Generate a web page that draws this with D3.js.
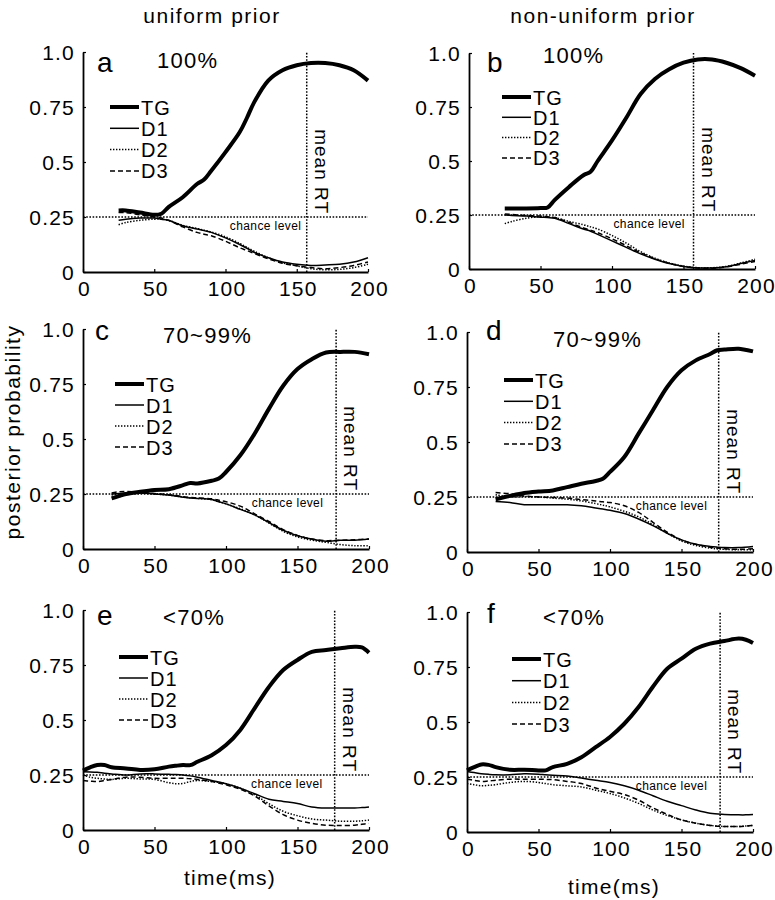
<!DOCTYPE html>
<html>
<head>
<meta charset="utf-8">
<script src="https://cdn.jsdelivr.net/npm/d3@7/dist/d3.min.js"></script>
<style>
  html, body { margin: 0; padding: 0; background: #fff; }
  svg { display: block; }
  text { font-family: "Liberation Sans", Arial, Helvetica, sans-serif; fill: #000; }
</style>
</head>
<body>
<svg id="chart" width="775" height="900"></svg>
<script>
// ---------------- DATA ----------------
const columnTitles = ["uniform prior", "non-uniform prior"];
const panelLetters = ["a", "b", "c", "d", "e", "f"];
const accuracyLabels = ["100%", "100%", "70~99%", "70~99%", "<70%", "<70%"];
const seriesNames = ["TG", "D1", "D2", "D3"];
const yTickValues = [0, 0.25, 0.5, 0.75, 1.0];
const yTickLabels = ["0", "0.25", "0.5", "0.75", "1.0"];
const xTickValues = [0, 50, 100, 150, 200];
const xTickLabels = ["0", "50", "100", "150", "200"];
const chanceLevel = 0.25;
const meanRT = [157, 157, 177, 176, 176, 177];
const yAxisTitle = "posterior probability";
const xAxisTitle = "time(ms)";

// panel a
const timesA = [25,30,40,50,55,60,70,80,85,90,100,110,115,120,130,140,150,160,170,180,190,200];
const tgA = [0.28,0.28,0.27,0.26,0.265,0.295,0.34,0.40,0.42,0.46,0.545,0.636,0.70,0.77,0.87,0.917,0.94,0.95,0.95,0.94,0.917,0.87];
const d1A = [0.235,0.24,0.245,0.245,0.24,0.235,0.21,0.195,0.188,0.18,0.155,0.125,0.108,0.09,0.065,0.045,0.035,0.03,0.032,0.035,0.045,0.065];
const d2A = [0.215,0.225,0.235,0.24,0.24,0.235,0.212,0.198,0.19,0.182,0.16,0.13,0.112,0.095,0.065,0.042,0.028,0.015,0.01,0.012,0.02,0.035];
const d3A = [0.27,0.27,0.26,0.25,0.245,0.235,0.205,0.18,0.172,0.165,0.14,0.11,0.098,0.085,0.06,0.04,0.028,0.02,0.015,0.02,0.03,0.045];

// panel b
const timesB = [25,30,40,50,55,60,70,80,85,90,100,110,120,130,140,150,160,170,180,190,200];
const tgB = [0.28,0.28,0.28,0.282,0.285,0.32,0.38,0.434,0.45,0.50,0.595,0.70,0.81,0.88,0.925,0.955,0.97,0.97,0.955,0.93,0.895];
const d1B = [0.25,0.248,0.245,0.24,0.238,0.235,0.21,0.185,0.175,0.16,0.13,0.10,0.07,0.045,0.025,0.012,0.005,0.005,0.01,0.025,0.04];
const d2B = [0.21,0.22,0.235,0.242,0.24,0.238,0.22,0.205,0.195,0.185,0.155,0.12,0.08,0.05,0.028,0.014,0.006,0.006,0.012,0.028,0.045];
const d3B = [0.255,0.252,0.248,0.245,0.242,0.238,0.215,0.19,0.18,0.168,0.14,0.108,0.075,0.048,0.026,0.012,0.005,0.004,0.01,0.022,0.035];

// panel c
const timesC = [20,25,30,40,50,60,70,75,80,90,95,100,110,120,130,140,150,160,170,180,190,200];
const tgC = [0.23,0.24,0.25,0.26,0.268,0.272,0.29,0.30,0.298,0.31,0.32,0.35,0.426,0.524,0.637,0.742,0.818,0.863,0.893,0.896,0.896,0.885];
const d1C = [0.25,0.252,0.255,0.255,0.25,0.245,0.235,0.232,0.23,0.225,0.215,0.205,0.18,0.155,0.12,0.085,0.06,0.045,0.035,0.04,0.04,0.045];
const d2C = [0.245,0.25,0.252,0.255,0.25,0.245,0.236,0.233,0.23,0.224,0.215,0.205,0.183,0.155,0.118,0.08,0.055,0.04,0.03,0.02,0.015,0.015];
const d3C = [0.255,0.26,0.262,0.258,0.252,0.247,0.238,0.234,0.232,0.228,0.222,0.215,0.195,0.16,0.125,0.088,0.062,0.045,0.038,0.04,0.042,0.045];

// panel d
const timesD = [20,30,40,50,60,70,80,90,95,100,110,120,130,140,150,160,170,175,180,190,200];
const tgD = [0.24,0.255,0.268,0.275,0.28,0.295,0.31,0.323,0.333,0.364,0.432,0.538,0.644,0.75,0.826,0.871,0.90,0.917,0.92,0.924,0.912];
const d1D = [0.23,0.225,0.215,0.215,0.215,0.215,0.21,0.2,0.195,0.19,0.175,0.15,0.12,0.085,0.055,0.035,0.025,0.022,0.02,0.02,0.025];
const d2D = [0.26,0.25,0.252,0.25,0.245,0.24,0.232,0.22,0.213,0.205,0.185,0.16,0.125,0.085,0.05,0.03,0.018,0.014,0.012,0.01,0.01];
const d3D = [0.27,0.265,0.255,0.25,0.248,0.245,0.238,0.232,0.228,0.225,0.21,0.18,0.135,0.09,0.055,0.035,0.022,0.018,0.015,0.012,0.015];

// panel e
const timesE = [0,5,10,15,20,30,40,50,60,65,70,75,80,90,100,110,120,130,140,150,160,170,180,190,195,200];
const tgE = [0.27,0.285,0.295,0.295,0.285,0.28,0.273,0.276,0.288,0.292,0.295,0.295,0.31,0.34,0.386,0.455,0.553,0.65,0.727,0.773,0.81,0.818,0.826,0.833,0.83,0.806];
const d1E = [0.265,0.264,0.262,0.258,0.255,0.25,0.255,0.255,0.253,0.252,0.25,0.246,0.24,0.225,0.21,0.19,0.165,0.14,0.13,0.12,0.105,0.1,0.1,0.1,0.102,0.105];
const d2E = [0.25,0.24,0.235,0.232,0.23,0.235,0.232,0.23,0.215,0.21,0.212,0.22,0.225,0.22,0.21,0.19,0.16,0.12,0.085,0.065,0.05,0.045,0.04,0.04,0.042,0.045];
const d3E = [0.225,0.222,0.22,0.225,0.23,0.24,0.24,0.235,0.235,0.235,0.235,0.233,0.23,0.22,0.205,0.185,0.155,0.11,0.07,0.045,0.03,0.022,0.02,0.022,0.026,0.03];

// panel f
const timesF = [0,5,10,15,20,30,40,50,55,60,70,80,90,100,110,120,130,140,150,160,170,180,190,195,200];
const tgF = [0.28,0.295,0.307,0.305,0.295,0.283,0.283,0.28,0.28,0.295,0.31,0.34,0.386,0.432,0.492,0.568,0.66,0.742,0.788,0.833,0.856,0.868,0.879,0.874,0.859];
const d1F = [0.275,0.27,0.265,0.262,0.26,0.26,0.265,0.263,0.26,0.258,0.255,0.245,0.235,0.225,0.21,0.19,0.165,0.14,0.12,0.1,0.085,0.08,0.078,0.078,0.08];
const d2F = [0.22,0.215,0.21,0.212,0.215,0.225,0.23,0.225,0.22,0.215,0.21,0.205,0.19,0.175,0.155,0.13,0.1,0.075,0.055,0.04,0.03,0.025,0.025,0.027,0.03];
const d3F = [0.24,0.235,0.23,0.232,0.235,0.24,0.24,0.24,0.239,0.238,0.23,0.22,0.2,0.185,0.17,0.145,0.11,0.08,0.055,0.04,0.03,0.025,0.025,0.027,0.03];

// ---------------- LAYOUT ----------------
const panelData = [
  {t: timesA, s: [tgA, d1A, d2A, d3A]},
  {t: timesB, s: [tgB, d1B, d2B, d3B]},
  {t: timesC, s: [tgC, d1C, d2C, d3C]},
  {t: timesD, s: [tgD, d1D, d2D, d3D]},
  {t: timesE, s: [tgE, d1E, d2E, d3E]},
  {t: timesF, s: [tgF, d1F, d2F, d3F]}
];
const frames = [
  {x0: 83,  x1: 368, y0: 272, y1: 52,  lgX: 110, lgY: 107, lgDy: 21.3, letX: 97,  letY: 72,  accX: 157, accY: 68,  chX: 103},
  {x0: 469, x1: 755, y0: 269, y1: 53,  lgX: 502, lgY: 97,  lgDy: 20.3, letX: 487, letY: 72,  accX: 543, accY: 63,  chX: 101},
  {x0: 83,  x1: 369, y0: 549, y1: 329, lgX: 115, lgY: 384, lgDy: 21,   letX: 95,  letY: 340, accX: 163, accY: 343, chX: 118},
  {x0: 467, x1: 753, y0: 552, y1: 332, lgX: 504, lgY: 380, lgDy: 21.3, letX: 486, letY: 340, accX: 553, accY: 347, chX: 118},
  {x0: 83,  x1: 369, y0: 830, y1: 610, lgX: 119, lgY: 657, lgDy: 21,   letX: 97,  letY: 625, accX: 163, accY: 625, chX: 117.5},
  {x0: 467, x1: 753, y0: 832, y1: 612, lgX: 512, lgY: 659, lgDy: 21.7, letX: 487, letY: 623, accX: 543, accY: 625, chX: 118}
];
const styles = [
  {w: 4,   dash: null},
  {w: 1.5, dash: null},
  {w: 1.5, dash: "1.4,1.6"},
  {w: 1.5, dash: "5,3"}
];
const ink = "#000";

const svg = d3.select("#chart");

// column titles
svg.append("text").attr("x", 212).attr("y", 23).attr("text-anchor", "middle")
  .style("font-size", "21px").style("letter-spacing", "1.5px").text(columnTitles[0]);
svg.append("text").attr("x", 603).attr("y", 23).attr("text-anchor", "middle")
  .style("font-size", "21px").style("letter-spacing", "1.5px").text(columnTitles[1]);

// y-axis title
svg.append("text").attr("transform", "translate(20,432) rotate(-90)").attr("text-anchor", "middle")
  .style("font-size", "21px").style("letter-spacing", "1.5px").text(yAxisTitle);

frames.forEach((f, i) => {
  const pd = panelData[i];
  const x = d3.scaleLinear().domain([0, 200]).range([f.x0, f.x1]);
  const y = d3.scaleLinear().domain([0, 1]).range([f.y0, f.y1]);
  const g = svg.append("g");

  // axes
  const yAxis = d3.axisLeft(y).tickValues(yTickValues)
    .tickFormat((d, k) => yTickLabels[k]).tickSizeInner(-3).tickSizeOuter(0).tickPadding(8);
  const ga = g.append("g").attr("transform", `translate(${f.x0},0)`).call(yAxis);
  const xAxis = d3.axisBottom(x).tickValues(xTickValues)
    .tickFormat((d, k) => xTickLabels[k]).tickSizeInner(-3).tickSizeOuter(0).tickPadding(9);
  const gb = g.append("g").attr("transform", `translate(0,${f.y0})`).call(xAxis);
  [ga, gb].forEach(a => {
    a.select(".domain").attr("stroke", ink).attr("stroke-width", 1.8);
    a.selectAll(".tick line").attr("stroke", ink).attr("stroke-width", 1.2);
    a.selectAll(".tick text").attr("fill", ink)
      .style("font-size", "21px").style("letter-spacing", "1.2px")
      .style("font-family", '"Liberation Sans", Arial, sans-serif');
  });
  gb.selectAll(".tick text").attr("dy", "0.72em").attr("dx", "1px");
  ga.selectAll(".tick text").attr("dy", "0.36em");

  // chance level line
  g.append("line").attr("x1", x(0)).attr("x2", x(200)).attr("y1", y(chanceLevel)).attr("y2", y(chanceLevel))
    .attr("stroke", ink).attr("stroke-width", 1.5).attr("stroke-dasharray", "1.6,1.6");
  g.append("text").attr("x", x(f.chX)).attr("y", y(chanceLevel) + 13)
    .style("font-size", "12px").style("letter-spacing", "0.4px").attr("fill", "#222").text("chance level");

  // mean RT line
  g.append("line").attr("x1", x(meanRT[i])).attr("x2", x(meanRT[i])).attr("y1", y(0)).attr("y2", y(1))
    .attr("stroke", ink).attr("stroke-width", 1.5).attr("stroke-dasharray", "1.6,1.6");
  g.append("text")
    .attr("transform", `translate(${x(meanRT[i]) + 8},${y(chanceLevel) - 3}) rotate(90)`)
    .attr("text-anchor", "end")
    .style("font-size", "19px").style("letter-spacing", "1px").text("mean RT");

  // series lines
  const line = d3.line().x(d => x(d[0])).y(d => y(d[1])).curve(d3.curveCatmullRom.alpha(0.5));
  [3, 2, 1, 0].forEach(k => {
    const pts = pd.t.map((t, j) => [t, pd.s[k][j]]);
    const p = g.append("path").datum(pts).attr("d", line)
      .attr("fill", "none").attr("stroke", ink).attr("stroke-width", styles[k].w)
      .attr("stroke-linejoin", "round");
    if (styles[k].dash) p.attr("stroke-dasharray", styles[k].dash);
  });

  // legend
  seriesNames.forEach((name, k) => {
    const yy = f.lgY + k * f.lgDy;
    const l = g.append("line").attr("x1", f.lgX).attr("x2", f.lgX + 29).attr("y1", yy).attr("y2", yy)
      .attr("stroke", ink).attr("stroke-width", styles[k].w);
    if (styles[k].dash) l.attr("stroke-dasharray", styles[k].dash);
    g.append("text").attr("x", f.lgX + 31).attr("y", yy + 7.5)
      .style("font-size", "20px").style("letter-spacing", "1px").text(name);
  });

  // panel letter and accuracy label
  g.append("text").attr("x", f.letX).attr("y", f.letY).style("font-size", "28px").text(panelLetters[i]);
  g.append("text").attr("x", f.accX).attr("y", f.accY)
    .style("font-size", "22px").style("letter-spacing", "1.3px").text(accuracyLabels[i]);

  // x-axis title on bottom row
  if (i >= 4) {
    g.append("text").attr("x", (f.x0 + f.x1) / 2 + 4).attr("y", i === 4 ? 885 : 894)
      .attr("text-anchor", "middle").style("font-size", "21px").style("letter-spacing", "1.3px").text(xAxisTitle);
  }
});
</script>
</body>
</html>
